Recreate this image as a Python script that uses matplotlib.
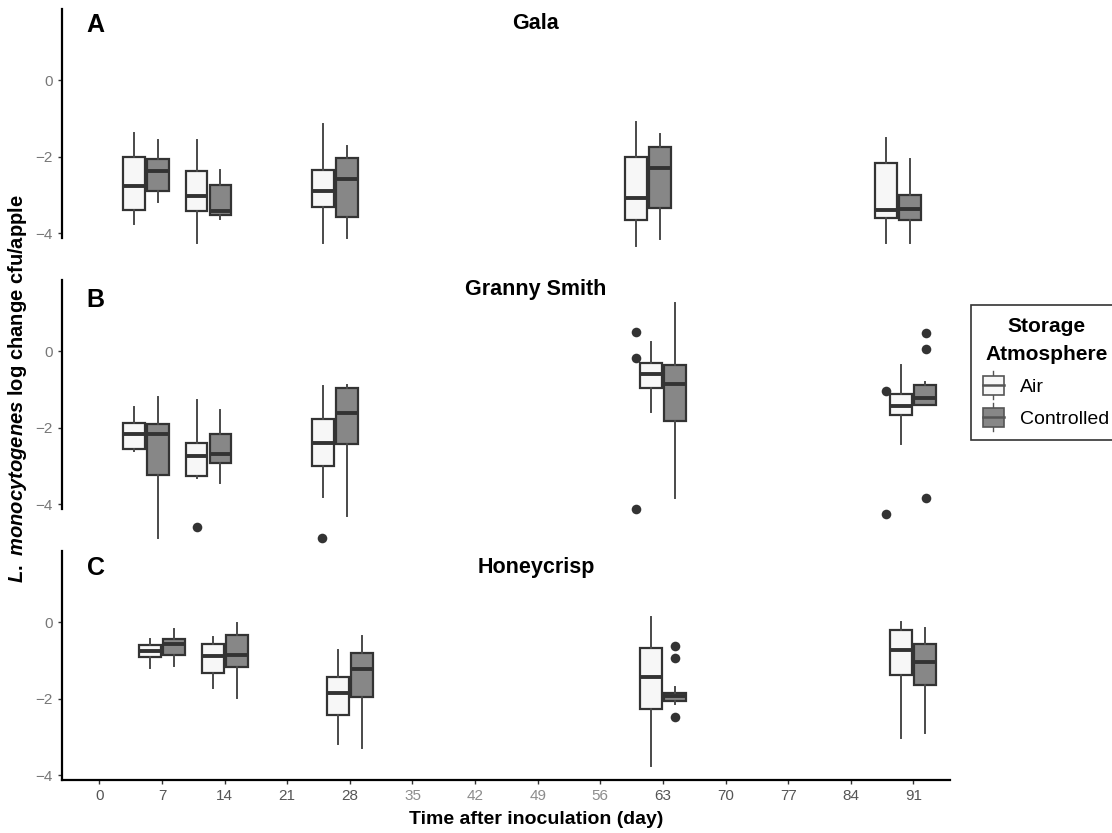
import matplotlib
matplotlib.use("Agg")
import matplotlib.pyplot as plt
from matplotlib.patches import Patch, Rectangle
from matplotlib.lines import Line2D
from matplotlib.legend_handler import HandlerBase

plt.rcParams['font.family'] = ['Liberation Sans', 'DejaVu Sans']
plt.rcParams['mathtext.fontset'] = 'custom'
plt.rcParams['mathtext.it'] = 'Liberation Sans:italic:bold'
plt.rcParams['mathtext.rm'] = 'Liberation Sans:bold'

# sampling day (group centre) for each cultivar
gala_days = [5.25, 12.2, 26.3, 61.3, 89.3]
granny_days = [5.25, 12.2, 26.3, 63.0, 91.0]
honey_days = [7.0, 14.0, 28.0, 63.0, 91.0]

# box stats: (whisker low, q1, median, q3, whisker high)
gala_air = [(-3.76, -3.39, -2.76, -1.99, -1.37),
            (-4.26, -3.41, -3.02, -2.36, -1.56),
            (-4.25, -3.32, -2.89, -2.34, -1.15),
            (-4.32, -3.65, -3.08, -2.01, -1.10),
            (-4.26, -3.59, -3.39, -2.15, -1.51)]
gala_ca = [(-3.19, -2.88, -2.36, -2.06, -1.56),
           (-3.63, -3.52, -3.41, -2.74, -2.34),
           (-4.13, -3.57, -2.59, -2.03, -1.71),
           (-4.15, -3.33, -2.30, -1.73, -1.40),
           (-4.26, -3.65, -3.35, -3.00, -2.06)]

granny_air = [(-2.61, -2.54, -2.15, -1.86, -1.46),
              (-3.30, -3.26, -2.74, -2.39, -1.27),
              (-3.82, -3.00, -2.40, -1.76, -0.91),
              (-1.59, -0.95, -0.59, -0.31, 0.25),
              (-2.41, -1.65, -1.44, -1.11, -0.35)]
granny_ca = [(-4.89, -3.24, -2.17, -1.91, -1.18),
             (-3.43, -2.93, -2.67, -2.15, -1.54),
             (-4.30, -2.43, -1.61, -0.95, -0.88),
             (-3.83, -1.82, -0.85, -0.35, 1.26),
             (-1.41, -1.40, -1.21, -0.88, -0.81)]

honey_air = [(-1.21, -0.90, -0.76, -0.61, -0.43),
             (-1.72, -1.32, -0.89, -0.56, -0.38),
             (-3.18, -2.44, -1.86, -1.44, -0.74),
             (-3.75, -2.28, -1.44, -0.67, 0.13),
             (-3.04, -1.39, -0.74, -0.21, 0.01)]
honey_ca = [(-1.15, -0.86, -0.58, -0.45, -0.19),
            (-1.98, -1.17, -0.85, -0.34, -0.02),
            (-3.30, -1.96, -1.22, -0.80, -0.37),
            (-2.15, -2.07, -1.93, -1.85, -1.69),
            (-2.89, -1.65, -1.05, -0.56, -0.15)]

# outliers (day, value)
gala_out = []
granny_out = [(10.9, -4.60), (24.9, -4.88),
              (60.0, 0.51), (60.0, -0.17), (60.0, -4.12),
              (87.9, -1.04), (87.9, -4.25),
              (92.4, 0.47), (92.4, 0.05), (92.4, -3.83)]
honey_out = [(64.4, -0.63), (64.4, -0.93), (64.4, -2.48)]

panels = [("A", "Gala", gala_days, gala_air, gala_ca, gala_out),
          ("B", "Granny Smith", granny_days, granny_air, granny_ca, granny_out),
          ("C", "Honeycrisp", honey_days, honey_air, honey_ca, honey_out)]

xticks = list(range(0, 92, 7))
air_col = '#f7f7f7'
ca_col = '#878787'
edge = '#333333'


def stats(vals):
    lo, q1, med, q3, hi = vals
    return dict(whislo=lo, q1=q1, med=med, q3=q3, whishi=hi, fliers=[])


class BoxHandler(HandlerBase):
    def create_artists(self, legend, orig_handle, xdescent, ydescent,
                       width, height, fontsize, trans):
        x0, y0 = -xdescent, -ydescent
        xm = x0 + width / 2
        wl = Line2D([xm, xm], [y0 - 0.22 * height, y0 + 1.22 * height],
                    color='#555555', lw=1.0, transform=trans)
        rect = Rectangle((x0, y0), width, height,
                         facecolor=orig_handle.get_facecolor(),
                         edgecolor='#555555', lw=1.2, transform=trans)
        med = Line2D([x0, x0 + width], [y0 + height / 2] * 2,
                     color='#555555', lw=1.8, transform=trans)
        return [wl, rect, med]


fig = plt.figure(figsize=(11.12, 8.33), dpi=100)
bottoms = [0.7143, 0.389, 0.064]
title_base = [0.965, 0.646, 0.312]
letter_base = [0.961, 0.632, 0.310]

off = 1.34
bw = 2.45
for i, (letter, name, days, air, ca, outs) in enumerate(panels):
    ax = fig.add_axes([0.0558, bottoms[i], 0.7986, 0.275])
    for vals, sgn, fc in [(air, -1, air_col), (ca, 1, ca_col)]:
        pos = [d + sgn * off for d in days]
        art = ax.bxp([stats(v) for v in vals], positions=pos, widths=bw,
                     showfliers=False, showcaps=False, patch_artist=True,
                     boxprops=dict(facecolor=fc, edgecolor=edge, lw=1.6),
                     whiskerprops=dict(color='#4a4a4a', lw=1.4),
                     medianprops=dict(color=edge, lw=2.8),
                     manage_ticks=False)
        for key in art:
            for a in art[key]:
                a.set_clip_on(False)
                a.set_zorder(3)
    if outs:
        ax.scatter([o[0] for o in outs], [o[1] for o in outs], s=48,
                   color='#333333', zorder=4, clip_on=False, linewidths=0)
    ax.set_xlim(-4.17, 95.1)
    ax.set_ylim(-4.12, 1.87)
    ax.set_yticks([-4, -2, 0])
    ax.tick_params(axis='y', colors='#333333', labelcolor='#777777',
                   labelsize=11, length=3, width=1)
    ax.spines['top'].set_visible(False)
    ax.spines['right'].set_visible(False)
    ax.spines['left'].set_linewidth(1.6)
    ax.patch.set_alpha(0)
    if i < 2:
        ax.spines['bottom'].set_visible(False)
        ax.set_xticks([])
    else:
        ax.spines['bottom'].set_linewidth(1.6)
        ax.set_xticks(xticks)
        ax.set_xticklabels([str(t) for t in xticks])
        ax.tick_params(axis='x', colors='#333333', labelsize=11,
                       length=3, width=1)
        for t, lab in zip(xticks, ax.get_xticklabels()):
            lab.set_color('#8c8c8c' if 35 <= t <= 56 else '#555555')
    fig.text(0.086, letter_base[i], letter, fontsize=18, fontweight='bold',
             ha='center', va='baseline')
    fig.text(0.482, title_base[i], name, fontsize=15.5, fontweight='bold',
             ha='center', va='baseline')

fig.text(0.482, 0.006, "Time after inoculation (day)", fontsize=14,
         fontweight='bold', ha='center', va='bottom')
fig.text(0.016, 0.534, r"$\mathit{L.\ monocytogenes}$ log change cfu/apple",
         rotation=90, fontsize=14.5, fontweight='bold', ha='center',
         va='center')

handles = [Patch(facecolor=air_col, label='Air'),
           Patch(facecolor=ca_col, label='Controlled')]
leg = fig.legend(handles=handles, title="Storage\nAtmosphere",
                 loc='upper left', bbox_to_anchor=(0.873, 0.634),
                 handler_map={Patch: BoxHandler()}, fontsize=14,
                 title_fontproperties=dict(weight='bold', size=15),
                 alignment='center',
                 frameon=True, fancybox=False, handlelength=1.08,
                 handleheight=1.15, handletextpad=0.85, labelspacing=0.6,
                 borderpad=0.62, borderaxespad=0)
leg.get_title().set_multialignment('center')
leg.get_title().set_linespacing(1.6)
leg.get_frame().set_edgecolor('black')
leg.get_frame().set_linewidth(1.2)

fig.savefig("out.png", dpi=100)
